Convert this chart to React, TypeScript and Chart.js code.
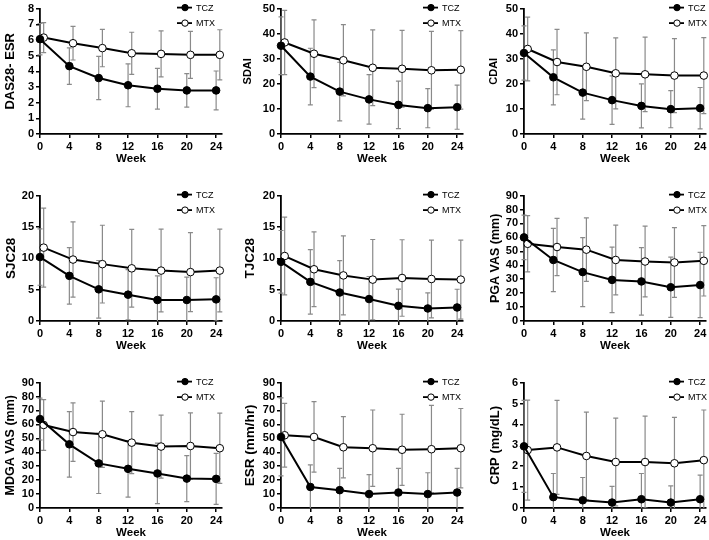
import React, { useEffect, useRef } from "react";
import { Chart, registerables } from "chart.js";

Chart.register(...registerables);

const weeks = [0, 4, 8, 12, 16, 20, 24];
const seriesNames = ["TCZ", "MTX"];

const das28Tcz = [6.05, 4.33, 3.57, 3.11, 2.89, 2.78, 2.78];
const das28TczSd = [1.0, 1.17, 1.38, 1.37, 1.3, 1.07, 1.24];
const das28Mtx = [6.15, 5.79, 5.48, 5.15, 5.11, 5.05, 5.05];
const das28MtxSd = [0.96, 1.07, 1.19, 1.34, 1.47, 1.5, 1.6];

const sdaiTcz = [35.2, 22.9, 16.9, 13.8, 11.6, 10.3, 10.7];
const sdaiTczSd = [11.5, 11.3, 11.7, 9.9, 9.45, 7.8, 8.8];
const sdaiMtx = [36.5, 32.0, 29.4, 26.4, 26.0, 25.4, 25.6];
const sdaiMtxSd = [12.8, 13.5, 14.2, 15.1, 15.3, 15.5, 15.65];

const cdaiTcz = [32.3, 22.6, 16.5, 13.5, 11.2, 9.9, 10.3];
const cdaiTczSd = [10.8, 10.95, 10.6, 9.65, 8.75, 7.4, 8.25];
const cdaiMtx = [33.9, 28.7, 26.8, 24.2, 23.8, 23.3, 23.3];
const cdaiMtxSd = [12.7, 13.05, 13.5, 14.15, 14.85, 14.75, 15.15];

const sjcTcz = [10.2, 7.2, 5.05, 4.2, 3.35, 3.35, 3.45];
const sjcTczSd = [4.5, 4.5, 4.6, 4.0, 3.85, 3.65, 3.45];
const sjcMtx = [11.7, 9.8, 9.07, 8.4, 8.04, 7.8, 8.04];
const sjcMtxSd = [6.3, 6.0, 6.2, 6.2, 6.6, 6.3, 6.6];

const tjcTcz = [9.43, 6.24, 4.54, 3.5, 2.42, 2.0, 2.16];
const tjcTczSd = [5.0, 5.15, 5.1, 3.6, 2.65, 2.5, 2.9];
const tjcMtx = [10.36, 8.25, 7.27, 6.6, 6.86, 6.7, 6.6];
const tjcMtxSd = [6.2, 5.95, 6.3, 6.4, 6.1, 6.2, 6.3];

const pgaTcz = [60, 43.8, 35.1, 29.5, 28.4, 24.2, 25.8];
const pgaTczSd = [16, 22.7, 24.8, 23.5, 24.2, 21.6, 23.4];
const pgaMtx = [55.4, 53.1, 51.2, 43.8, 42.7, 42.0, 43.2];
const pgaMtxSd = [20.2, 20.55, 22.75, 25, 25.35, 25.05, 25.25];

const mdgaTcz = [63.8, 45.7, 32.0, 28.1, 24.8, 21.1, 20.9];
const mdgaTczSd = [15, 23.5, 21.6, 20.3, 21.7, 16.5, 18.3];
const mdgaMtx = [59.6, 54.5, 52.9, 46.9, 44.1, 44.5, 42.9];
const mdgaMtxSd = [18.2, 21, 23.8, 22.25, 22.6, 23.8, 25.25];

const esrTcz = [51, 15.1, 12.8, 10, 11.1, 10, 11.1];
const esrTczSd = [28, 15.8, 15.7, 13.9, 17.3, 15.3, 17.3];
const esrMtx = [52.2, 51, 43.6, 42.9, 41.8, 42.2, 42.9];
const esrMtxSd = [22.85, 25.3, 22, 27.45, 25.5, 31.4, 28.5];

const crpTcz = [2.95, 0.52, 0.37, 0.26, 0.42, 0.26, 0.42];
const crpTczSd = [2.2, 1.13, 1.09, 0.77, 1.23, 0.8, 1.15];
const crpMtx = [2.77, 2.9, 2.49, 2.2, 2.2, 2.14, 2.29];
const crpMtxSd = [2.39, 2.25, 2.1, 2.1, 2.2, 2.2, 2.4];

const yTitles = [
  "DAS28- ESR", "SDAI", "CDAI",
  "SJC28", "TJC28", "PGA VAS (mm)",
  "MDGA VAS (mm)", "ESR (mm/hr)", "CRP (mg/dL)",
];
const yMaxes = [8, 50, 50, 20, 20, 90, 90, 90, 6];
const ySteps = [1, 10, 10, 5, 5, 10, 10, 10, 1];

const panelData = [
  [das28Tcz, das28TczSd, das28Mtx, das28MtxSd],
  [sdaiTcz, sdaiTczSd, sdaiMtx, sdaiMtxSd],
  [cdaiTcz, cdaiTczSd, cdaiMtx, cdaiMtxSd],
  [sjcTcz, sjcTczSd, sjcMtx, sjcMtxSd],
  [tjcTcz, tjcTczSd, tjcMtx, tjcMtxSd],
  [pgaTcz, pgaTczSd, pgaMtx, pgaMtxSd],
  [mdgaTcz, mdgaTczSd, mdgaMtx, mdgaMtxSd],
  [esrTcz, esrTczSd, esrMtx, esrMtxSd],
  [crpTcz, crpTczSd, crpMtx, crpMtxSd],
];

const MTX_OFFSET = 0.5;
const FONT = "'Liberation Sans', Arial, sans-serif";

// layout
const colLeft = [0, 241, 484];
const colWidth = [236, 236, 225];
const colTitlePad = [2.8, 0.8, 3.8];
const colLegendX = [177, 182, 185];
const titleSizes = [13, 11, 11, 13.5, 13.5, 12.5, 12.5, 13.5, 13];
const rowTop = [0, 187, 374];
const CANVAS_H = 166;
const Y_SCALE_W = 40;
const X_SCALE_H = 32;
const PLOT_W = 182;

const errorBarsPlugin = {
  id: "errorBars",
  beforeDatasetsDraw(chart: any) {
    const { ctx, chartArea, scales } = chart;
    ctx.save();
    ctx.beginPath();
    ctx.rect(chartArea.left - 6, chartArea.top - 3, chartArea.right - chartArea.left + 12, chartArea.bottom - chartArea.top + 3);
    ctx.clip();
    ctx.strokeStyle = "#8a8a8a";
    ctx.lineWidth = 1.2;
    chart.data.datasets.forEach((ds: any, di: number) => {
      const meta = chart.getDatasetMeta(di);
      meta.data.forEach((pt: any, i: number) => {
        const v = ds.data[i].y;
        const sd = ds.sd[i];
        const yTop = scales.y.getPixelForValue(v + sd);
        const rawBot = scales.y.getPixelForValue(v - sd);
        const yBot = Math.min(rawBot, chartArea.bottom);
        const x = pt.x;
        ctx.beginPath();
        ctx.moveTo(x, yTop);
        ctx.lineTo(x, yBot);
        ctx.moveTo(x - 2.5, yTop);
        ctx.lineTo(x + 2.5, yTop);
        if (rawBot <= chartArea.bottom) {
          ctx.moveTo(x - 2.5, yBot);
          ctx.lineTo(x + 2.5, yBot);
        }
        ctx.stroke();
      });
    });
    ctx.restore();
  },
};

const legendPlugin = {
  id: "customLegend",
  afterDraw(chart: any) {
    const { ctx, chartArea } = chart;
    const lx = chart.options.plugins.customLegend.x;
    chart.data.datasets.forEach((ds: any, i: number) => {
      const y = chartArea.top - 1 + i * 15.5;
      ctx.save();
      ctx.strokeStyle = "#000";
      ctx.lineWidth = 1.8;
      ctx.beginPath();
      ctx.moveTo(lx, y);
      ctx.lineTo(lx + 15, y);
      ctx.stroke();
      ctx.beginPath();
      ctx.arc(lx + 8, y, 3.2, 0, Math.PI * 2);
      ctx.fillStyle = ds.pointBackgroundColor;
      ctx.fill();
      ctx.lineWidth = 1;
      ctx.stroke();
      ctx.fillStyle = "#000";
      ctx.font = `9px ${FONT}`;
      ctx.textBaseline = "middle";
      ctx.textAlign = "left";
      ctx.fillText(ds.label, lx + 19, y + 0.5);
      ctx.restore();
    });
  },
};

function buildConfig(idx: number): any {
  const col = idx % 3;
  const [tcz, tczSd, mtx, mtxSd] = panelData[idx];
  const padRight = colWidth[col] - Y_SCALE_W - PLOT_W;
  const tickFont = { family: FONT, size: 11, weight: "bold" as const };
  const xTitleFont = { family: FONT, size: 11.5, weight: "bold" as const };
  const yTitleFont = { family: FONT, size: titleSizes[idx], weight: "bold" as const };
  return {
    type: "line",
    data: {
      datasets: [
        {
          label: seriesNames[0],
          data: weeks.map((w, i) => ({ x: w, y: tcz[i] })),
          sd: tczSd,
          borderColor: "#000",
          borderWidth: 2,
          pointBackgroundColor: "#000",
          pointBorderColor: "#000",
          pointBorderWidth: 1,
          pointRadius: 3.8,
          clip: false,
        },
        {
          label: seriesNames[1],
          data: weeks.map((w, i) => ({ x: w + MTX_OFFSET, y: mtx[i] })),
          sd: mtxSd,
          borderColor: "#000",
          borderWidth: 2,
          pointBackgroundColor: "#fff",
          pointBorderColor: "#000",
          pointBorderWidth: 1,
          pointRadius: 3.8,
          clip: false,
        },
      ],
    },
    options: {
      animation: false,
      responsive: false,
      layout: { padding: { top: 5, right: padRight, bottom: 0, left: 0 }, autoPadding: false },
      plugins: {
        legend: { display: false },
        tooltip: { enabled: false },
        customLegend: { x: colLegendX[col] },
      },
      scales: {
        x: {
          type: "linear",
          min: 0,
          max: 24.8,
          afterFit(s: any) {
            s.height = X_SCALE_H;
          },
          afterBuildTicks(s: any) {
            s.ticks = weeks.map((v) => ({ value: v }));
          },
          ticks: { font: tickFont, color: "#000", padding: 2, maxRotation: 0, autoSkip: false },
          grid: { drawOnChartArea: false, drawTicks: true, tickLength: 4, color: "#000", lineWidth: 1.5 },
          border: { display: true, color: "#000", width: 1.8 },
          title: { display: true, text: "Week", font: xTitleFont, color: "#000", padding: { top: 0, bottom: 0 } },
        },
        y: {
          type: "linear",
          min: 0,
          max: yMaxes[idx],
          afterFit(s: any) {
            s.width = Y_SCALE_W;
          },
          ticks: { stepSize: ySteps[idx], font: tickFont, color: "#000", padding: 2, autoSkip: false },
          grid: { drawOnChartArea: false, drawTicks: true, tickLength: 4, color: "#000", lineWidth: 1.5 },
          border: { display: true, color: "#000", width: 1.8 },
          title: {
            display: true,
            text: yTitles[idx],
            font: yTitleFont,
            color: "#000",
            padding: { top: colTitlePad[col], bottom: 0 },
          },
        },
      },
    },
    plugins: [errorBarsPlugin, legendPlugin],
  };
}

export default function App() {
  const refs = useRef<(HTMLCanvasElement | null)[]>([]);
  useEffect(() => {
    const charts = panelData.map((_, idx) => {
      const cv = refs.current[idx] as HTMLCanvasElement;
      return new Chart(cv, buildConfig(idx));
    });
    return () => charts.forEach((c) => c.destroy());
  }, []);
  return (
    <div style={{ position: "fixed", left: 0, top: 0, width: 709, height: 540, background: "#fff" }}>
      {panelData.map((_, idx) => {
        const col = idx % 3;
        const row = Math.floor(idx / 3);
        return (
          <canvas
            key={idx}
            ref={(el) => {
              refs.current[idx] = el;
            }}
            width={colWidth[col]}
            height={CANVAS_H}
            style={{
              position: "absolute",
              left: colLeft[col],
              top: rowTop[row],
              width: colWidth[col],
              height: CANVAS_H,
            }}
          />
        );
      })}
    </div>
  );
}
